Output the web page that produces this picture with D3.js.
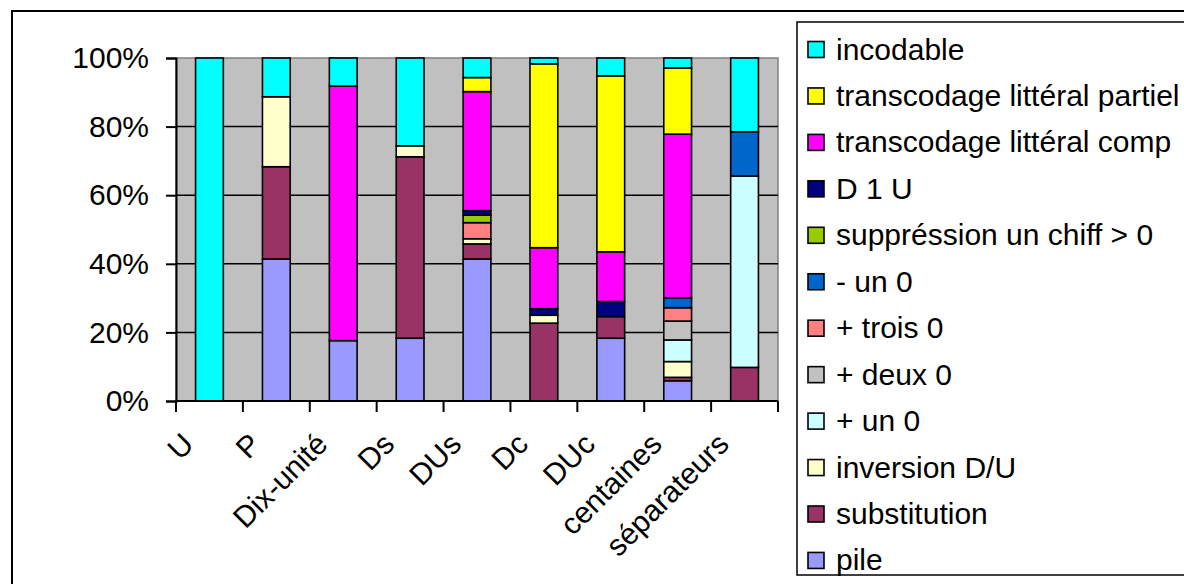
<!DOCTYPE html>
<html>
<head>
<meta charset="utf-8">
<script src="https://cdn.jsdelivr.net/npm/d3@7"></script>
<style>
  html, body { margin: 0; padding: 0; background: #fff; }
  svg { display: block; font-family: "Liberation Sans", Arial, sans-serif; }
</style>
</head>
<body>
<svg id="chart" width="1184" height="584"></svg>
<script>
// Error categories per task (100% stacked columns)
const categories = ["U", "P", "Dix-unité", "Ds", "DUs", "Dc", "DUc", "centaines", "séparateurs"];

// Series, listed from the bottom of each column to the top (percent)
const seriesNames = [
  "pile", "substitution", "inversion D/U", "+ un 0", "+ deux 0", "+ trois 0",
  "- un 0", "suppréssion un chiff > 0", "D 1 U", "transcodage littéral comp",
  "transcodage littéral partiel", "incodable"
];
const pile        = [0, 41.4, 17.6, 18.3, 41.4, 0, 18.3, 5.9, 0];
const substitution = [0, 26.9, 0, 52.9, 4.4, 22.7, 6.3, 1.0, 9.8];
const inversionDU = [0, 20.4, 0, 3.2, 1.5, 2.3, 0, 4.6, 0];
const plusUn0     = [0, 0, 0, 0, 0, 0, 0, 6.3, 55.8];
const plusDeux0   = [0, 0, 0, 0, 0, 0, 0, 5.5, 0];
const plusTrois0  = [0, 0, 0, 0, 4.7, 0, 0, 3.9, 0];
const moinsUn0    = [0, 0, 0, 0, 0, 0, 0, 2.9, 12.9];
const suppression = [0, 0, 0, 0, 2.2, 0, 0, 0, 0];
const d1u         = [0, 0, 0, 0, 1.3, 1.9, 4.4, 0, 0];
const litteralComp = [0, 0, 74.2, 0, 34.7, 17.8, 14.5, 47.7, 0];
const litteralPartiel = [0, 0, 0, 0, 4.1, 53.6, 51.3, 19.3, 0];
const incodable   = [100, 11.3, 8.2, 25.6, 5.7, 1.7, 5.2, 2.9, 21.5];

const seriesValues = [pile, substitution, inversionDU, plusUn0, plusDeux0, plusTrois0,
  moinsUn0, suppression, d1u, litteralComp, litteralPartiel, incodable];
const seriesColors = ["#9999FF", "#993366", "#FFFFCC", "#CCFFFF", "#C0C0C0", "#FF8080",
  "#0066CC", "#99CC00", "#000080", "#FF00FF", "#FFFF00", "#00FFFF"];
const yTickLabels = ["0%", "20%", "40%", "60%", "80%", "100%"];

const svg = d3.select("#chart");
const font = 30;

// chart outer border
svg.append("rect").attr("x", 12).attr("y", 11).attr("width", 1200).attr("height", 600)
  .attr("fill", "#fff").attr("stroke", "#000").attr("stroke-width", 2);

const plot = { left: 176, right: 778, top: 58, bottom: 401 };

const x = d3.scaleBand().domain(categories).range([plot.left, plot.right])
  .paddingInner(0.585).paddingOuter(0.2925);
const y = d3.scaleLinear().domain([0, 1]).range([plot.bottom, plot.top]);

// table for the stack
const rows = categories.map((c, i) => {
  const r = { cat: c };
  seriesNames.forEach((s, j) => { r[s] = seriesValues[j][i]; });
  return r;
});
const stack = d3.stack().keys(seriesNames).offset(d3.stackOffsetExpand);
const layers = stack(rows);

// plot area
svg.append("rect").attr("x", plot.left).attr("y", plot.top)
  .attr("width", plot.right - plot.left).attr("height", plot.bottom - plot.top)
  .attr("fill", "#C0C0C0").attr("stroke", "#808080").attr("stroke-width", 1.5);

// gridlines
const yTicks = [0, 0.2, 0.4, 0.6, 0.8, 1];
svg.append("g").selectAll("line").data(yTicks.slice(1, 5)).join("line")
  .attr("x1", plot.left).attr("x2", plot.right)
  .attr("y1", d => y(d)).attr("y2", d => y(d))
  .attr("stroke", "#000").attr("stroke-width", 1.5);

// bars
const gBars = svg.append("g");
layers.forEach((layer, j) => {
  gBars.append("g").selectAll("rect")
    .data(layer.filter(d => d[1] - d[0] > 1e-9)).join("rect")
    .attr("x", d => x(d.data.cat))
    .attr("width", x.bandwidth())
    .attr("y", d => y(d[1]))
    .attr("height", d => y(d[0]) - y(d[1]))
    .attr("fill", seriesColors[j])
    .attr("stroke", "#000").attr("stroke-width", 1.6);
});

// y axis
const yAxis = d3.axisLeft(y).tickValues(yTicks)
  .tickFormat((d, i) => yTickLabels[i]).tickSize(10).tickPadding(17);
const gy = svg.append("g").attr("transform", `translate(${plot.left},0)`).call(yAxis);
gy.select(".domain").attr("stroke", "#000").attr("stroke-width", 2);
gy.selectAll(".tick line").attr("stroke", "#000").attr("stroke-width", 2);
gy.selectAll(".tick text").attr("font-size", font).attr("fill", "#000")
  .attr("font-family", "Liberation Sans, Arial, sans-serif");

// x axis: ticks between categories
const bounds = d3.range(categories.length + 1).map(i => plot.left + i * (plot.right - plot.left) / categories.length);
svg.append("line").attr("x1", plot.left).attr("x2", plot.right)
  .attr("y1", plot.bottom).attr("y2", plot.bottom)
  .attr("stroke", "#000").attr("stroke-width", 2);
svg.append("g").selectAll("line").data(bounds).join("line")
  .attr("x1", d => d).attr("x2", d => d)
  .attr("y1", plot.bottom).attr("y2", plot.bottom + 11)
  .attr("stroke", "#000").attr("stroke-width", 2);

svg.append("g").selectAll("text").data(categories).join("text")
  .attr("transform", d => `translate(${x(d) + x.bandwidth() / 2 - 14},446) rotate(-45)`)
  .attr("text-anchor", "end")
  .attr("font-size", font).attr("fill", "#000")
  .text(d => d);

// legend
const legend = svg.append("g");
legend.append("rect").attr("x", 797).attr("y", 22).attr("width", 420).attr("height", 553)
  .attr("fill", "#fff").attr("stroke", "#000").attr("stroke-width", 1.5);
const legendOrder = d3.range(seriesNames.length).reverse();
legendOrder.forEach((j, k) => {
  const cy = 49 + k * 46.45;
  legend.append("rect").attr("x", 808).attr("y", cy - 7.5).attr("width", 16).attr("height", 16)
    .attr("fill", seriesColors[j]).attr("stroke", "#000").attr("stroke-width", 1.6);
  legend.append("text").attr("x", 836).attr("y", cy + 10.5)
    .attr("font-size", font).attr("fill", "#000").text(seriesNames[j]);
});
</script>
</body>
</html>
